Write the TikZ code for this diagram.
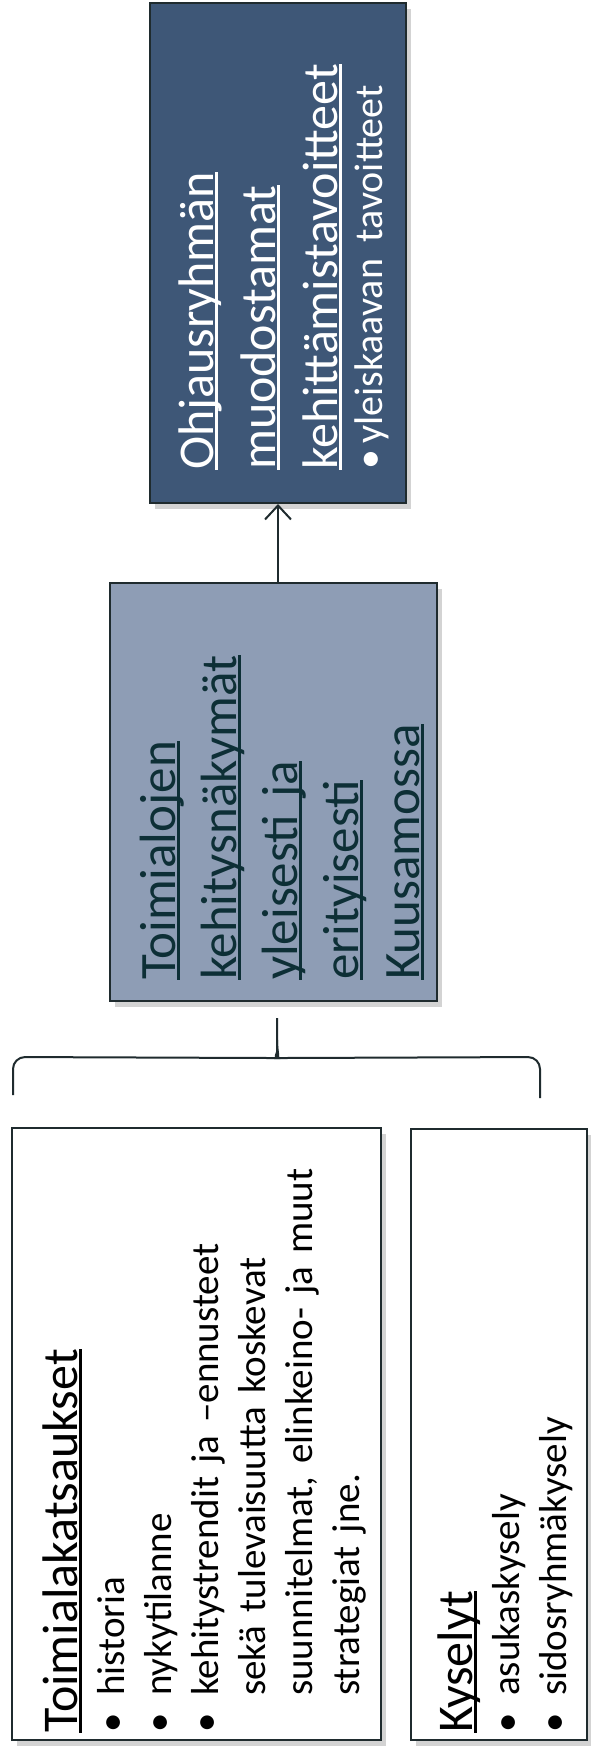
\documentclass[tikz,border=0pt]{standalone}
\usepackage{fontspec}
\setmainfont{Carlito}
\usepackage{xcolor}
\usetikzlibrary{calc, arrows.meta, shadows}

\definecolor{goalblue}{HTML}{3E5777}
\definecolor{midblue}{HTML}{8E9DB5}
\definecolor{edgedark}{HTML}{1F2B2E}
\definecolor{tealtext}{HTML}{0D2F36}

\newcommand{\ulword}[1]{\leavevmode\setbox0\hbox{#1}\rlap{\rule[-0.09em]{\wd0}{0.06em}}\box0}

\begin{document}
\begin{tikzpicture}[x=1pt, y=1pt,
    boxshadow/.style={drop shadow={shadow xshift=5pt, shadow yshift=-6pt, opacity=0.35}},
    textcol/.style={rotate=90, anchor=base west, text width=760pt, align=left, inner sep=0pt},
    smallfont/.style={font=\fontsize{39}{47}\selectfont}]
    \useasboundingbox (0,0) rectangle (590,-1752);
    \node[draw=edgedark, line width=2pt, fill=goalblue, boxshadow, minimum width=256pt, minimum height=500pt] (goal) at (278,-253) {};
    \node[draw=edgedark, line width=2pt, fill=midblue, boxshadow, minimum width=327pt, minimum height=418pt] (mid) at (273.5,-792) {};
    \node[draw=edgedark, line width=2.5pt, fill=white, boxshadow, minimum width=369pt, minimum height=612pt] (review) at (196.5,-1434) {};
    \node[draw=edgedark, line width=2.5pt, fill=white, boxshadow, minimum width=176pt, minimum height=611pt] (survey) at (499,-1434.5) {};

    \node[textcol, text=white, font=\fontsize{50}{62}\selectfont] (goaltext) at (213,-470)
        {\ulword{Ohjausryhmän}\\ \ulword{muodostamat}\\ \ulword{kehittämistavoitteet}\\[-17pt]
         {\fontsize{40}{45}\selectfont\makebox[26pt][l]{\textbullet}yleiskaavan tavoitteet}};
    \node[textcol, text=tealtext, font=\fontsize{51}{61}\selectfont] (midtext) at (175,-980)
        {\ulword{Toimialojen}\\ \ulword{kehitysnäkymät}\\ \ulword{yleisesti ja}\\ \ulword{erityisesti}\\ \ulword{Kuusamossa}};
    \node[textcol, smallfont] (reviewtext) at (77,-1733)
        {{\fontsize{50}{47}\selectfont\ulword{Toimialakatsaukset}}\\
         \makebox[37pt][l]{\textbullet}historia\\
         \makebox[37pt][l]{\textbullet}nykytilanne\\
         \makebox[37pt][l]{\textbullet}kehitystrendit ja –ennusteet\\
         \hspace*{37pt}sekä tulevaisuutta koskevat\\
         \hspace*{37pt}suunnitelmat, elinkeino- ja muut\\
         \hspace*{37pt}strategiat jne.};
    \node[textcol, smallfont] (surveytext) at (472,-1733)
        {{\fontsize{50}{47}\selectfont\ulword{Kyselyt}}\\
         \makebox[37pt][l]{\textbullet}asukaskysely\\
         \makebox[37pt][l]{\textbullet}sidosryhmäkysely};

    \draw[edgedark, line width=2pt, -{Straight Barb[length=14pt, width=26pt]}] (goal.south |- mid.north) -- (goal.south);

    \coordinate (tip) at ($(mid.south)+(3.5,-16)$);
    \draw[edgedark, line width=2pt, rounded corners=12pt] (13,-1095) -- (13,-1057) -- ($(tip)+(-12,-40)$)
        .. controls ($(tip)+(-3,-40)$) and ($(tip)+(0,-35)$) .. ($(tip)+(0,-22)$) -- (tip);
    \draw[edgedark, line width=2pt, rounded corners=12pt] ($(tip)+(0,-22)$)
        .. controls ($(tip)+(0,-35)$) and ($(tip)+(3,-40)$) .. ($(tip)+(12,-40)$) -- (540,-1057) -- (540,-1098);
\end{tikzpicture}
\end{document}
